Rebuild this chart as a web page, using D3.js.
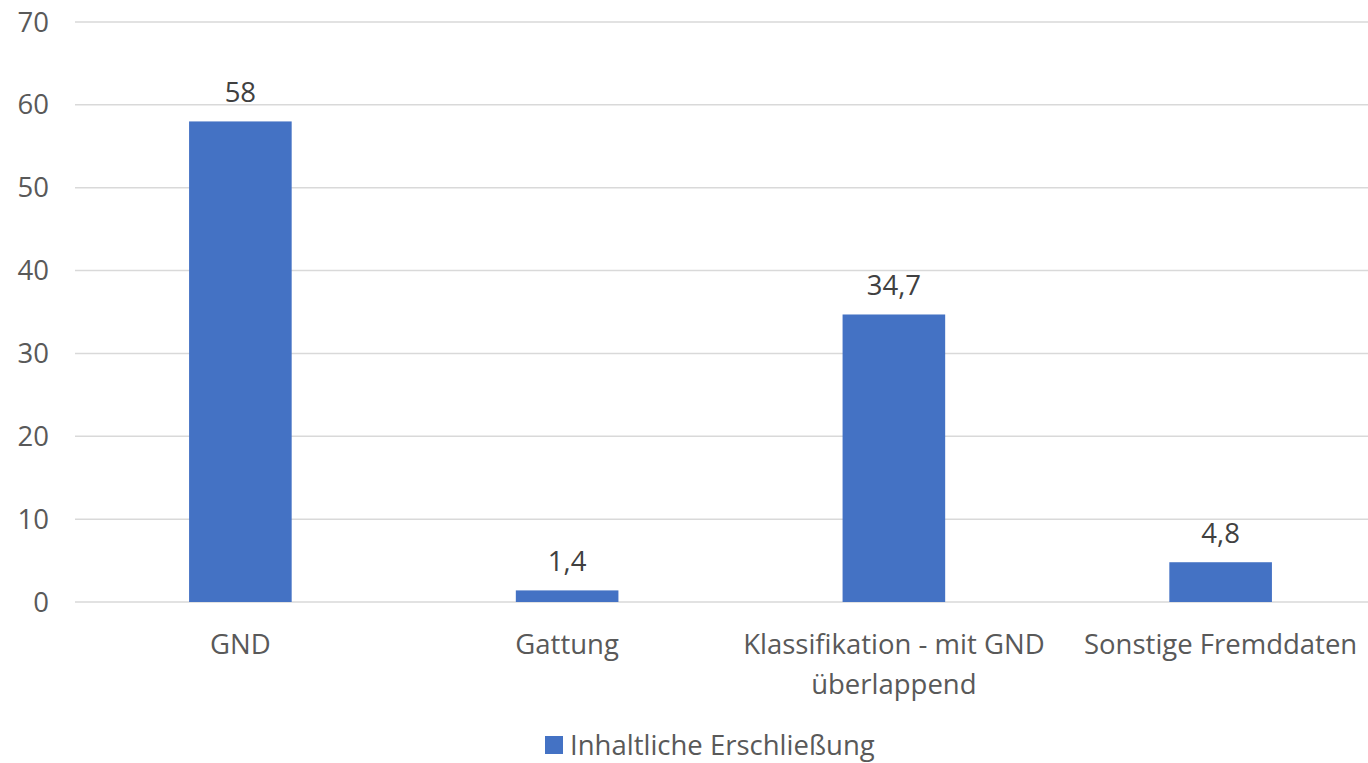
<!DOCTYPE html>
<html>
<head>
<meta charset="utf-8">
<script src="https://cdn.jsdelivr.net/npm/d3@7"></script>
<style>
  body { margin: 0; background: #fff; }
  text { font-family: "Open Sans", "Noto Sans", sans-serif; }
</style>
</head>
<body>
<script>
let width = 1368
let height = 763

let categories = ["GND", "Gattung", "Klassifikation - mit GND|überlappend", "Sonstige Fremddaten"]
let values = [58, 1.4, 34.7, 4.8]
let yTicks = [0, 10, 20, 30, 40, 50, 60, 70]
let seriesName = "Inhaltliche Erschließung"

let fontSize = 27.5

let svg = d3.select("body")
    .append("svg")
    .attr("width", width)
    .attr("height", height)

let x = d3.scaleBand()
    .domain(categories)
    .range([77, 1384])
    .paddingInner(0.686)
    .paddingOuter(0.343)

let y = d3.scaleLinear()
    .domain([0, 70])
    .range([602, 22])

// gridlines
svg.append("g")
    .selectAll("line")
    .data(yTicks)
    .enter()
    .append("line")
    .attr("x1", 75)
    .attr("x2", 1368)
    .attr("y1", d => y(d))
    .attr("y2", d => y(d))
    .attr("stroke", "#d9d9d9")
    .attr("stroke-width", 1.5)

// y tick labels
svg.append("g")
    .selectAll("text")
    .data(yTicks)
    .enter()
    .append("text")
    .attr("x", 49)
    .attr("y", d => y(d))
    .attr("dy", "0.35em")
    .attr("text-anchor", "end")
    .attr("font-size", fontSize)
    .attr("fill", "#595959")
    .text(d => d)

// bars
svg.append("g")
    .selectAll("rect")
    .data(values)
    .enter()
    .append("rect")
    .attr("x", (d, i) => x(categories[i]))
    .attr("width", x.bandwidth())
    .attr("y", d => y(d))
    .attr("height", d => y(0) - y(d))
    .attr("fill", "#4472C4")

// value labels
svg.append("g")
    .selectAll("text")
    .data(values)
    .enter()
    .append("text")
    .attr("x", (d, i) => x(categories[i]) + x.bandwidth() / 2)
    .attr("y", d => y(d) - 19)
    .attr("text-anchor", "middle")
    .attr("font-size", fontSize)
    .attr("fill", "#404040")
    .text(d => String(d).replace(".", ","))

// category labels
let cat = svg.append("g")
    .selectAll("text")
    .data(categories)
    .enter()
    .append("text")
    .attr("x", d => x(d) + x.bandwidth() / 2)
    .attr("y", 654)
    .attr("text-anchor", "middle")
    .attr("font-size", fontSize)
    .attr("fill", "#595959")

cat.selectAll("tspan")
    .data(d => d.split("|").map(s => [d, s]))
    .enter()
    .append("tspan")
    .attr("x", d => x(d[0]) + x.bandwidth() / 2)
    .attr("dy", (d, i) => i === 0 ? 0 : 40)
    .text(d => d[1])

// legend
svg.append("rect")
    .attr("x", 545)
    .attr("y", 736)
    .attr("width", 18)
    .attr("height", 18)
    .attr("fill", "#4472C4")
svg.append("text")
    .attr("x", 570)
    .attr("y", 755)
    .attr("font-size", fontSize)
    .attr("fill", "#595959")
    .text(seriesName)
</script>
</body>
</html>
